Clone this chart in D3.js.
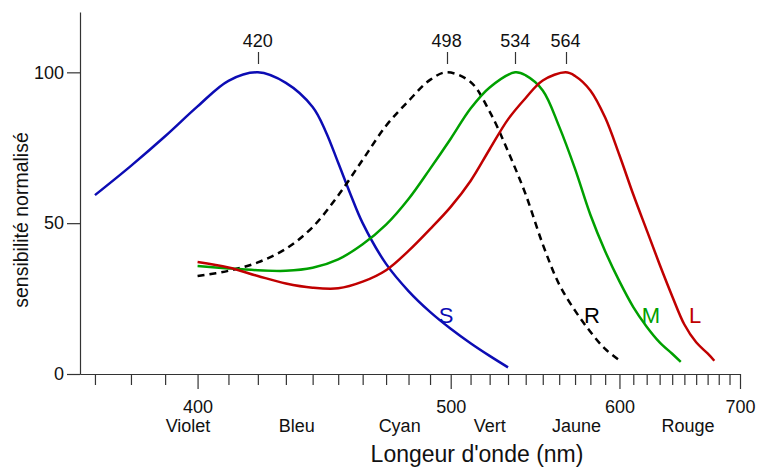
<!DOCTYPE html>
<meta charset="utf-8">
<style>
body { margin: 0; background: #fff; }
text { font-family: "Liberation Sans", Arial, sans-serif; }
.axis path, .axis line { stroke: #333; stroke-width: 1.2; }
.axis text { font-size: 18px; fill: #111; font-family: "Liberation Sans", Arial, sans-serif; }
</style>
<body>
<script src="https://d3js.org/d3.v7.min.js"></script>
<script>

// wavelengths (nm) and normalised sensitivity
var sNm  = [370, 380, 390, 400, 410, 420, 430, 440, 445, 450, 455, 460, 470, 480, 490, 500, 510, 520, 530];
var sVal = [59.3, 69, 78.8, 88.7, 97.2, 100, 96.5, 88.5, 80.5, 70, 59.5, 50, 36.5, 27.5, 20.6, 15, 10.2, 6, 2.2];

var rNm  = [400, 410, 420, 430, 440, 450, 460, 470, 480, 490, 498, 510, 520, 530, 540, 550, 560, 570, 580, 590, 600];
var rVal = [32.5, 34.2, 37, 41.5, 48.7, 59.2, 71, 82.3, 90.5, 97.5, 100, 96.8, 87, 73.8, 59.5, 43, 29.7, 21, 14, 8.3, 4.5];

var mNm  = [400, 410, 420, 430, 440, 450, 460, 470, 480, 490, 500, 510, 520, 534, 540, 550, 560, 570, 580, 590, 600, 610, 620, 630, 640, 647];
var mVal = [35.8, 35, 34.4, 34.2, 35.2, 38, 43, 49.5, 58, 68, 78, 88, 95, 100, 99, 94, 82, 68, 52.8, 40.7, 30.7, 22.2, 15.7, 10.5, 6.7, 4];

var lNm  = [400, 410, 420, 430, 440, 450, 460, 470, 480, 490, 500, 510, 520, 530, 540, 550, 564, 570, 580, 590, 600, 610, 620, 630, 640, 650, 660, 670, 676];
var lVal = [37.1, 35.3, 32.5, 30, 28.6, 28.4, 30.6, 34.4, 40.8, 48, 55.4, 64, 74.5, 84.4, 91.5, 97.3, 100, 98.8, 94, 85, 72.5, 59.5, 47.7, 36.3, 25.8, 16.4, 10.5, 6.8, 4.4];

var peaks = [420, 498, 534, 564];
var majorTicks = [400, 500, 600, 700];
var colourNames = ["Violet", "Bleu", "Cyan", "Vert", "Jaune", "Rouge"];
var colourNm = [397, 434, 476, 520, 571, 653];
var yTicks = [0, 50, 100];

var width = 760, height = 470;
var margin = {top: 12, right: 20, bottom: 96, left: 80};

var svg = d3.select("body").append("svg")
    .attr("width", width)
    .attr("height", height);

// x axis is linear in 1/wavelength
var x = d3.scaleLinear()
    .domain([1 / 366, 1 / 700])
    .range([margin.left, width - margin.right]);
function xnm(d) { return x(1 / d); }

var y = d3.scaleLinear()
    .domain([0, 120])
    .range([height - margin.bottom, margin.top]);

var minor = d3.range(370, 700, 10).filter(function(d) { return d % 100 != 0; });

// minor ticks
svg.append("g")
    .attr("class", "axis")
    .attr("transform", "translate(0," + y(0) + ")")
    .call(d3.axisBottom(x).tickValues(minor.map(function(d) { return 1 / d; }))
        .tickSize(11).tickSizeOuter(0).tickFormat(""));

// major ticks + labels
svg.append("g")
    .attr("class", "axis")
    .attr("transform", "translate(0," + y(0) + ")")
    .call(d3.axisBottom(x).tickValues(majorTicks.map(function(d) { return 1 / d; }))
        .tickSize(15).tickSizeOuter(0).tickPadding(11)
        .tickFormat(function(d) { return Math.round(1 / d); }));

svg.append("g")
    .attr("class", "axis")
    .attr("transform", "translate(" + margin.left + ",0)")
    .call(d3.axisLeft(y).tickValues(yTicks).tickSize(13).tickSizeOuter(0).tickPadding(3));

svg.selectAll(".colname")
    .data(colourNames)
  .enter().append("text")
    .attr("class", "colname")
    .attr("x", function(d, i) { return xnm(colourNm[i]); })
    .attr("y", 432)
    .attr("text-anchor", "middle")
    .style("font-size", "18px")
    .attr("fill", "#111")
    .text(function(d) { return d; });

svg.append("text")
    .attr("x", 477)
    .attr("y", 462)
    .attr("text-anchor", "middle")
    .style("font-size", "23px")
    .attr("fill", "#111")
    .text("Longeur d'onde (nm)");

svg.append("text")
    .attr("transform", "translate(28,220) rotate(-90)")
    .attr("text-anchor", "middle")
    .style("font-size", "19.5px")
    .attr("fill", "#111")
    .text("sensibilité normalisé");

// peak markers
svg.selectAll(".peakline")
    .data(peaks)
  .enter().append("line")
    .attr("x1", function(d) { return Math.round(xnm(d)) + 0.5; })
    .attr("x2", function(d) { return Math.round(xnm(d)) + 0.5; })
    .attr("y1", 52)
    .attr("y2", 64)
    .attr("stroke", "#333")
    .attr("stroke-width", 1.2);

svg.selectAll(".peaklabel")
    .data(peaks)
  .enter().append("text")
    .attr("x", function(d) { return xnm(d); })
    .attr("y", 47)
    .attr("text-anchor", "middle")
    .style("font-size", "18px")
    .attr("fill", "#111")
    .text(function(d) { return d; });

var line = d3.line()
    .x(function(d) { return xnm(d[0]); })
    .y(function(d) { return y(d[1]); })
    .curve(d3.curveCatmullRom.alpha(0.5));

var series = [
  {nm: sNm, val: sVal, colour: "#0c0cb4", dash: null, label: "S", lx: 446},
  {nm: rNm, val: rVal, colour: "#000000", dash: "7,5", label: "R", lx: 592},
  {nm: mNm, val: mVal, colour: "#00a000", dash: null, label: "M", lx: 651},
  {nm: lNm, val: lVal, colour: "#c00000", dash: null, label: "L", lx: 695}
];

series.forEach(function(s) {
  svg.append("path")
      .datum(d3.zip(s.nm, s.val))
      .attr("fill", "none")
      .attr("stroke", s.colour)
      .attr("stroke-width", 2.5)
      .attr("stroke-dasharray", s.dash)
      .attr("d", line);

  svg.append("text")
      .attr("x", s.lx)
      .attr("y", 323)
      .attr("text-anchor", "middle")
      .style("font-size", "22px")
      .attr("fill", s.colour)
      .text(s.label);
});

</script>
</body>
